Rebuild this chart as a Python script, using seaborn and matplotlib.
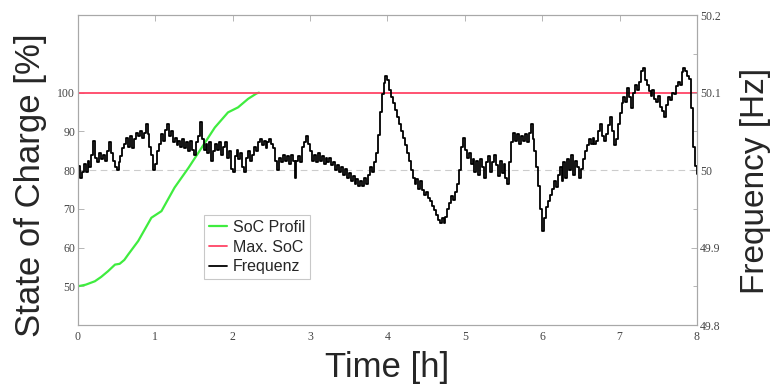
import numpy as np
import pandas as pd
import matplotlib
matplotlib.use("Agg")
import matplotlib.pyplot as plt
import seaborn as sns
from matplotlib.ticker import MultipleLocator

# ---- data ----
soc_time = [0.0, 0.1, 0.22, 0.3, 0.39, 0.48, 0.54, 0.6, 0.65, 0.78, 0.95, 1.08,
            1.25, 1.43, 1.6, 1.77, 1.94, 2.07, 2.2, 2.31, 2.34]
soc_value = [50.0, 50.4, 51.3, 52.4, 53.9, 55.6, 55.8, 56.8, 58.2, 61.7, 67.7, 69.4,
             75.5, 80.6, 85.8, 91.0, 94.9, 96.2, 98.4, 99.8, 100.0]

max_soc_time = [0.0, 8.0]
max_soc_value = [100.0, 100.0]

freq_time = [round(0.025 * i, 3) for i in range(321)]
freq_value = [
    # 0.0 - 0.5
    50.005, 49.990, 49.998, 50.008, 49.998, 50.012, 50.004, 50.020, 50.038, 50.015,
    50.010, 50.022, 50.014, 50.020, 50.012, 50.025, 50.036, 50.022, 50.012, 50.004,
    # 0.5 - 1.0
    50.000, 50.010, 50.018, 50.028, 50.034, 50.042, 50.030, 50.044, 50.028, 50.040,
    50.048, 50.044, 50.050, 50.042, 50.048, 50.060, 50.046, 50.030, 50.020, 50.000,
    # 1.0 - 1.5
    50.008, 50.024, 50.034, 50.046, 50.038, 50.052, 50.060, 50.044, 50.050, 50.036,
    50.042, 50.032, 50.038, 50.030, 50.040, 50.028, 50.036, 50.024, 50.038, 50.026,
    # 1.5 - 2.0
    50.020, 50.036, 50.044, 50.062, 50.040, 50.026, 50.034, 50.022, 50.036, 50.012,
    50.024, 50.034, 50.026, 50.036, 50.020, 50.030, 50.036, 50.016, 50.024, 50.002,
    # 2.0 - 2.5
    49.998, 50.018, 50.026, 50.014, 50.022, 50.004, 49.998, 50.016, 50.024, 50.012,
    50.020, 50.030, 50.024, 50.036, 50.040, 50.032, 50.038, 50.028, 50.036, 50.040,
    # 2.5 - 3.0
    50.034, 50.028, 50.012, 50.000, 50.016, 50.010, 50.020, 50.012, 50.018, 50.008,
    50.020, 50.012, 49.990, 50.012, 50.018, 50.010, 50.030, 50.036, 50.044, 50.034,
    # 3.0 - 3.5
    50.024, 50.012, 50.020, 50.010, 50.022, 50.012, 50.018, 50.008, 50.016, 50.010,
    50.016, 50.006, 50.010, 50.000, 50.006, 49.998, 50.004, 49.994, 50.002, 49.990,
    # 3.5 - 4.0
    49.996, 49.986, 49.992, 49.982, 49.988, 49.980, 49.986, 49.980, 49.990, 49.982,
    49.994, 50.004, 49.998, 50.010, 50.022, 50.045, 50.075, 50.098, 50.112, 50.122,
    # 4.0 - 4.5
    50.116, 50.104, 50.094, 50.086, 50.078, 50.068, 50.060, 50.050, 50.042, 50.032,
    50.022, 50.012, 50.000, 49.990, 49.982, 49.988, 49.976, 49.986, 49.974, 49.968,
    # 4.5 - 5.0
    49.972, 49.964, 49.960, 49.954, 49.948, 49.942, 49.936, 49.932, 49.938, 49.932,
    49.940, 49.950, 49.958, 49.966, 49.962, 49.972, 49.982, 50.000, 50.030, 50.042,
    # 5.0 - 5.5
    50.026, 50.016, 50.022, 50.008, 50.014, 49.998, 50.012, 49.994, 50.014, 50.004,
    49.990, 50.010, 50.018, 49.998, 50.010, 50.020, 50.006, 49.992, 50.012, 49.996,
    # 5.5 - 6.0
    50.008, 49.990, 49.982, 50.010, 50.036, 50.048, 50.038, 50.046, 50.034, 50.044,
    50.038, 50.046, 50.036, 50.048, 50.060, 50.040, 50.024, 50.004, 49.980, 49.950,
    # 6.0 - 6.5
    49.922, 49.938, 49.952, 49.960, 49.968, 49.976, 49.986, 49.978, 49.994, 50.004,
    49.986, 50.010, 49.990, 50.014, 50.000, 50.020, 49.994, 50.012, 50.004, 49.990,
    # 6.5 - 7.0
    50.002, 50.014, 50.024, 50.032, 50.040, 50.034, 50.042, 50.034, 50.038, 50.050,
    50.060, 50.044, 50.038, 50.046, 50.058, 50.068, 50.050, 50.032, 50.040, 50.060,
    # 7.0 - 7.5
    50.074, 50.086, 50.094, 50.088, 50.106, 50.094, 50.080, 50.100, 50.110, 50.104,
    50.114, 50.128, 50.132, 50.116, 50.110, 50.102, 50.096, 50.104, 50.092, 50.088,
    # 7.5 - 8.0
    50.096, 50.082, 50.076, 50.068, 50.084, 50.094, 50.090, 50.100, 50.098, 50.108,
    50.114, 50.110, 50.126, 50.132, 50.128, 50.122, 50.118, 50.080, 50.030, 50.005,
    49.995,
]

left_ticks = [50, 60, 70, 80, 90, 100]
right_ticks = [49.8, 49.9, 50.0, 50.1, 50.2]
right_tick_labels = ["49.8", "49.9", "50", "50.1", "50.2"]
x_ticks = [0, 1, 2, 3, 4, 5, 6, 7, 8]

soc_df = pd.DataFrame({"t": soc_time, "soc": soc_value})
max_df = pd.DataFrame({"t": max_soc_time, "soc": max_soc_value})
freq_df = pd.DataFrame({"t": freq_time, "f": freq_value})

sns.set_theme(style="white")
plt.rcParams["font.family"] = ["Liberation Sans", "DejaVu Sans"]

fig = plt.figure(figsize=(7.71, 3.89), dpi=100)
ax = fig.add_axes([0.101, 0.1645, 0.803, 0.7965])
ax2 = ax.twinx()

GREEN = "#3fec3f"
RED = "#ff4466"

sns.lineplot(data=soc_df, x="t", y="soc", ax=ax, color=GREEN, lw=1.6, label="SoC Profil", legend=False)
sns.lineplot(data=max_df, x="t", y="soc", ax=ax, color=RED, lw=1.3, label="Max. SoC", legend=False)
ax.axhline(80, color="#cccccc", lw=0.8, ls=(0, (6, 4)), zorder=0)

sns.lineplot(data=freq_df, x="t", y="f", ax=ax2, color="black", lw=1.3,
             drawstyle="steps-post", label="Frequenz", legend=False)

ax.set_xlim(0, 8)
ax.set_ylim(40, 120)
ax2.set_ylim(49.8, 50.2)

ax.set_xticks(x_ticks)
ax.set_yticks(left_ticks)
ax2.set_yticks(right_ticks)
ax2.set_yticklabels(right_tick_labels)
ax2.yaxis.set_minor_locator(MultipleLocator(0.05))

for lab in ax.get_xticklabels() + ax.get_yticklabels() + ax2.get_yticklabels():
    lab.set_fontfamily("Liberation Serif")
    lab.set_fontsize(8.5)
    lab.set_color("#444444")

ax.tick_params(axis="x", direction="in", top=True, length=4, width=0.6, color="#aaaaaa", pad=4)
ax.tick_params(axis="y", direction="in", length=4, width=0.6, color="#aaaaaa", pad=2)
ax2.tick_params(axis="y", which="major", direction="in", length=4, width=0.6, color="#aaaaaa", pad=2)
ax2.tick_params(axis="y", which="minor", direction="in", length=3, width=0.6, color="#aaaaaa", right=True)

for a in (ax, ax2):
    for s in a.spines.values():
        s.set_color("#a8a8a8")
        s.set_linewidth(0.8)

ax.set_xlabel("Time [h]", fontsize=25, labelpad=6)
ax.set_ylabel("State of Charge [%]", fontsize=25, labelpad=7)
ax2.set_ylabel("Frequency [Hz]", fontsize=24, labelpad=14)
ax.yaxis.label.set_y(0.45)
ax2.yaxis.label.set_y(0.465)

h1, l1 = ax.get_legend_handles_labels()
h2, l2 = ax2.get_legend_handles_labels()
leg = ax2.legend(h1 + h2, l1 + l2, loc="lower left", bbox_to_anchor=(0.204, 0.148),
                 borderaxespad=0, fontsize=11.5, frameon=True, fancybox=False,
                 handlelength=1.1, handletextpad=0.4, borderpad=0.3, labelspacing=0.3)
leg.get_frame().set_edgecolor("#bbbbbb")
leg.get_frame().set_linewidth(0.8)

fig.savefig("out.png", dpi=100)
